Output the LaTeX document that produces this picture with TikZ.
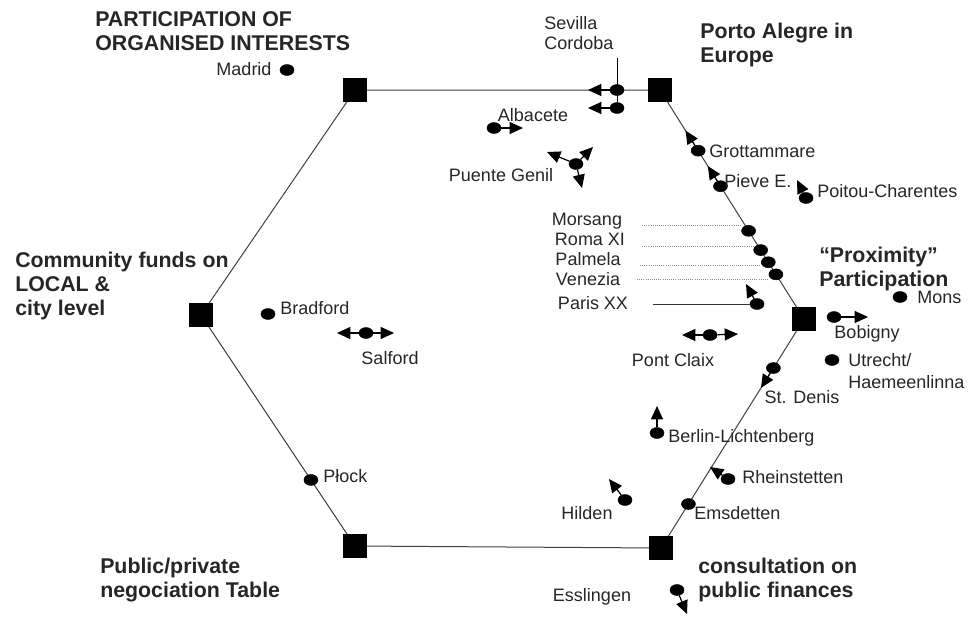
\documentclass[tikz,border=0pt]{standalone}
\usepackage{fontspec}
\setmainfont{Liberation Sans}
\usetikzlibrary{arrows.meta,shapes.geometric}
\pgfdeclarelayer{background}
\pgfsetlayers{background,main}

\newcommand{\citysize}{\fontsize{13.5}{15}\selectfont}
\newcommand{\polesize}{\bfseries\fontsize{16}{18}\selectfont}

\tikzset{
  pole/.style={rectangle, fill=black, draw=black, minimum size=17pt, inner sep=0pt},
  city/.style={ellipse, fill=black, draw=black, minimum width=10.5pt, minimum height=8.2pt, inner sep=0pt},
  citylabel/.style={inner sep=0pt, font=\citysize, text=black!85, text height=9.7pt, text depth=0pt},
  citynote/.style={inner sep=0pt, font=\citysize, text=black!85, align=left, anchor=west},
  polelabel/.style={inner sep=0pt, font=\polesize, text=black!85, align=left, anchor=west},
  edge/.style={draw=black!75, line width=0.75pt},
  move/.style={draw=black, line width=0.9pt, -{Triangle[length=10pt,width=9pt]}},
  hint/.style={draw=black!45, densely dotted, line width=0.6pt}
}

\begin{document}
\begin{tikzpicture}[x=0.75pt,y=0.75pt,yscale=-1,xscale=1]
\useasboundingbox (0,0) rectangle (969,618);

%Shape: Square
\node[pole] (tl) at (355,90) {};
\node[pole] (tr) at (660,90) {};
\node[pole] (r) at (804,319) {};
\node[pole] (br) at (661,548) {};
\node[pole] (bl) at (355,546) {};
\node[pole] (l) at (201,315) {};

%Shape: Ellipse (on the edges)
\path (tl.center) -- (tr.center) node[city, pos=0.859] (sevilla) {};
\path (tr.center) -- (r.center)
  coordinate[pos=0.177] (grottaTip)
  node[city, pos=0.265] (grotta) {}
  coordinate[pos=0.332] (pieveTip)
  node[city, pos=0.420] (pieve) {}
  node[city, pos=0.615] (morsang) {}
  node[city, pos=0.699] (roma) {}
  node[city, pos=0.752] (palmela) {}
  node[city, pos=0.805] (venezia) {};
\path (r.center) -- (br.center)
  node[city, pos=0.214] (stdenis) {}
  coordinate[pos=0.301] (stdenisTip)
  node[city, pos=0.808] (emsdetten) {};
\path (l.center) -- (bl.center) node[city, pos=0.714] (plock) {};

%Shape: Ellipse
\node[city] (cordoba) at (617,108) {};
\node[city] (madrid) at (287,70) {};
\node[city] (albacete) at (494,128) {};
\node[city] (puente) at (576,164) {};
\node[city] (poitou) at (806,198) {};
\node[city] (paris) at (757,304) {};
\node[city] (mons) at (900,297) {};
\node[city] (bobigny) at (834,317) {};
\node[city] (utrecht) at (832,360) {};
\node[city] (pontclaix) at (710,335) {};
\node[city] (berlin) at (657,433) {};
\node[city] (rhein) at (728,479) {};
\node[city] (hilden) at (625,500) {};
\node[city] (esslingen) at (677,590) {};
\node[city] (bradford) at (268,314) {};
\node[city] (salford) at (366,333) {};

%Straight Lines
\begin{pgfonlayer}{background}
\draw[edge] (tl) -- (tr) -- (r) -- (br) -- (bl) -- (l) -- (tl);
\coordinate (sevillaTop) at (617,58);
\draw[draw=black, line width=0.75pt] (sevillaTop) -- (cordoba);
\end{pgfonlayer}

\coordinate (morsangH) at (642,225);
\coordinate (romaH) at (642,246);
\coordinate (palmelaH) at (640,265);
\coordinate (veneziaH) at (637,279);
\coordinate (parisH) at (653,304);
\draw[hint] (morsangH) -- (morsangH -| morsang.west);
\draw[hint] (romaH) -- (romaH -| roma.west);
\draw[hint] (palmelaH) -- (palmelaH -| palmela.west);
\draw[hint] (veneziaH) -- (veneziaH -| venezia.west);
\draw[black!80, line width=0.75pt] (parisH) -- (paris.west);

%Arrows
\coordinate (sevillaTip) at (588,90);
\coordinate (cordobaTip) at (588,108);
\coordinate (albaceteTip) at (523,128);
\coordinate (puenteTipA) at (547,152);
\coordinate (puenteTipB) at (593,147);
\coordinate (puenteTipC) at (582,188);
\coordinate (poitouTip) at (797,180);
\coordinate (parisTip) at (746,284);
\coordinate (bobignyTip) at (868,317);
\coordinate (pontclaixTipA) at (682,335);
\coordinate (pontclaixTipB) at (738,334);
\coordinate (berlinTip) at (657,406);
\coordinate (rheinTip) at (710,467);
\coordinate (hildenTip) at (609,479);
\coordinate (esslingenTip) at (687,614);
\coordinate (salfordTipA) at (337,333);
\coordinate (salfordTipB) at (394,333);

\draw[move] (sevilla) -- (sevillaTip);
\draw[move] (cordoba) -- (cordobaTip);
\draw[move] (albacete) -- (albaceteTip);
\draw[move] (puente) -- (puenteTipA);
\draw[move] (puente) -- (puenteTipB);
\draw[move] (puente) -- (puenteTipC);
\draw[move] (grotta) -- (grottaTip);
\draw[move] (pieve) -- (pieveTip);
\draw[move] (poitou) -- (poitouTip);
\draw[move] (paris) -- (parisTip);
\draw[move] (bobigny) -- (bobignyTip);
\draw[move] (pontclaix) -- (pontclaixTipA);
\draw[move] (pontclaix) -- (pontclaixTipB);
\draw[move] (stdenis) -- (stdenisTip);
\draw[move] (berlin) -- (berlinTip);
\draw[move] (rhein) -- (rheinTip);
\draw[move] (hilden) -- (hildenTip);
\draw[move] (esslingen) -- (esslingenTip);
\draw[move] (salford) -- (salfordTipA);
\draw[move] (salford) -- (salfordTipB);

% Text Node
\node[citylabel] (madridL) at (244,69) {Madrid};
\node[citynote] (sevillaL) at (544,33) {Sevilla\\Cordoba};
\node[citylabel] (albaceteL) at (533,115) {Albacete};
\node[citylabel] (puenteL) at (501,175) {Puente Genil};
\node[citylabel, anchor=west] (grottaL) at (709,151) {Grottammare};
\node[citylabel, anchor=west] (pieveL) at (724,181) {Pieve E.};
\node[citylabel, anchor=west] (poitouL) at (817,191) {Poitou-Charentes};
\node[citylabel] (morsangL) at (587,219) {Morsang};
\node[citylabel] (romaL) at (590,239) {Roma XI};
\node[citylabel] (palmelaL) at (588,259) {Palmela};
\node[citylabel] (veneziaL) at (588,279) {Venezia};
\node[citylabel] (parisL) at (593,303) {Paris XX};
\node[citylabel, anchor=west] (monsL) at (917,297) {Mons};
\node[citylabel] (bobignyL) at (867,332) {Bobigny};
\node[citynote] (utrechtL) at (848,371) {Utrecht/\\[2pt]Haemeenlinna};
\node[citylabel] (pontclaixL) at (673,360) {Pont Claix};
\node[citylabel] (stdenisL) at (802,397) {St. Denis};
\node[citylabel, anchor=west] (berlinL) at (668,436) {Berlin-Lichtenberg};
\node[citylabel, anchor=west] (rheinL) at (742,477) {Rheinstetten};
\node[citylabel, anchor=west] (emsdettenL) at (694,513) {Emsdetten};
\node[citylabel] (hildenL) at (587,513) {Hilden};
\node[citylabel] (esslingenL) at (592,595) {Esslingen};
\node[citylabel, anchor=west] (bradfordL) at (280,308) {Bradford};
\node[citylabel] (salfordL) at (390,358) {Salford};
\node[citylabel, anchor=west] (plockL) at (323,476) {Płock};

% Text Node
\node[polelabel] (organisedL) at (95,31) {PARTICIPATION OF\\ORGANISED INTERESTS};
\node[polelabel] (portoL) at (700,45) {Porto Alegre in\\Europe};
\node[polelabel] (proximityL) at (819,269) {“Proximity”\\Participation};
\node[polelabel] (communityL) at (15,286) {Community funds on\\LOCAL \&\\city level};
\node[polelabel] (publicL) at (100,580) {Public/private\\negociation Table};
\node[polelabel] (consultL) at (698,580) {consultation on\\public finances};

\end{tikzpicture}
\end{document}
